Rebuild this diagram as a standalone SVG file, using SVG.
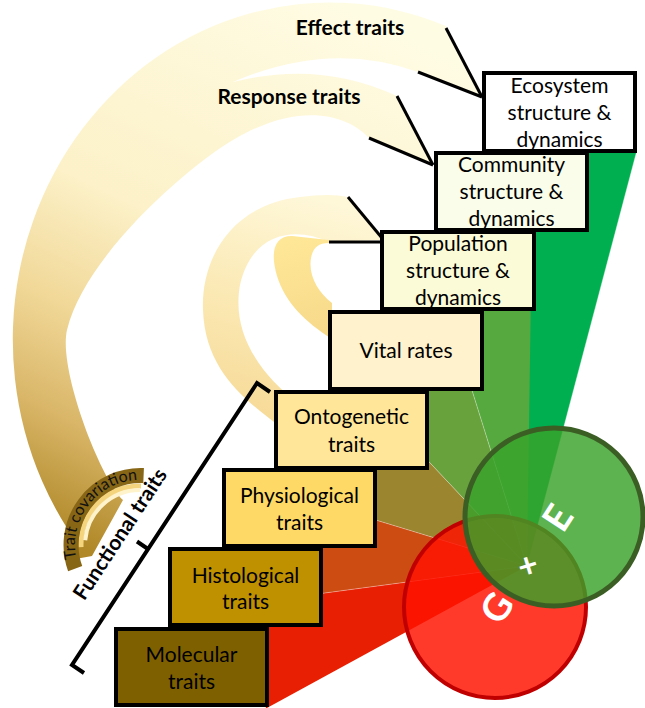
<svg xmlns="http://www.w3.org/2000/svg" width="645" height="708" viewBox="0 0 645 708">
<defs>
<style>
.box{stroke:#000;stroke-width:4}
.bt{font-family:Lato,"Liberation Sans",sans-serif;font-size:21px;fill:#000;text-anchor:middle}
.lbl{font-family:Lato,"Liberation Sans",sans-serif;font-weight:bold;font-size:21px;fill:#000;text-anchor:middle}
.conn line{stroke:#000;stroke-width:3}
.seam{stroke:#ffffff;stroke-opacity:0.35;stroke-width:1}
.big{font-family:Lato,"Liberation Sans",sans-serif;font-weight:bold;fill:#fff;text-anchor:middle}
</style>
<linearGradient id="gBig" gradientUnits="userSpaceOnUse" x1="330" y1="0" x2="70" y2="540">
<stop offset="0" stop-color="#fffce4"/>
<stop offset="0.45" stop-color="#fcf1c8"/>
<stop offset="0.65" stop-color="#f1d898"/>
<stop offset="0.82" stop-color="#d9b668"/>
<stop offset="1" stop-color="#b08828"/>
</linearGradient>
<linearGradient id="gB3" gradientUnits="userSpaceOnUse" x1="300" y1="195" x2="240" y2="420">
<stop offset="0" stop-color="#fef7d8"/>
<stop offset="0.5" stop-color="#fbe9b4"/>
<stop offset="1" stop-color="#f6d996"/>
</linearGradient>
<linearGradient id="gB4" gradientUnits="userSpaceOnUse" x1="300" y1="237" x2="330" y2="335">
<stop offset="0" stop-color="#fee797"/>
<stop offset="1" stop-color="#f7d98a"/>
</linearGradient>
<path id="tcPath" d="M76.42,558.51 A65,65 0 0 1 142.27,480.04"/>
</defs>

<g id="trait-bands">
<path fill="url(#gBig)" d="M67,528 A317,337 0 0 1 446,26 L482,97 L418,72 Q330,40 233,82 Q320,60 397,96 L433,165 L369,138 C348,115 300,100 233,140 C190,165 85,255 67,330 C58,369 100,478 123,500 L92,556 L70,560 Z"/>
<path fill="url(#gB3)" d="M300,405 L278,425 C245,400 205,370 203,310 C201,260 230,205 300,197 Q330,193 348,197 L382,240 L329,242 C295,226 252,232 240,285 C232,330 255,370 300,405 Z"/>
<path fill="url(#gB4)" d="M329,240 L292,236 C274,236 270,252 277,276 C285,302 305,322 332,339 L332,303 C318,292 308,275 311,258 C313,248 318,243 329,243 Z"/>
</g>

<g id="trait-covariation">
<path d="M81.04,547.06 A59,59 0 0 1 141.03,486.01" fill="none" stroke="#f5d47e" stroke-width="5"/>
<path d="M85.21,540.21 A55,55 0 0 1 140,490" fill="none" stroke="#fff3cc" stroke-width="4"/>
<path d="M75.16,568.6 A69.5,69.5 0 0 1 143.6,475.6" fill="none" stroke="#876616" stroke-width="15"/>
<text font-family="Lato,'Liberation Sans',sans-serif" font-size="16" fill="#111"><textPath href="#tcPath">Trait covariation</textPath></text>
</g>

<g id="fan">
<polygon points="527,566 428,250 540,250" fill="#55a93e"/>
<polygon points="527,566 533,150 637,150" fill="#00b050"/>
<polygon points="527,566 450,320 400,431" fill="#68a23c"/>
<polygon points="527,566 400,431 300,497" fill="#9b852e"/>
<polygon points="527,566 300,497 250,603" fill="#cc4c12"/>
<polygon points="527,566 250,603 266,708.5" fill="#e81f02"/>
<line class="seam" x1="527" y1="566" x2="450" y2="320"/>
<line class="seam" x1="527" y1="566" x2="400" y2="431"/>
<line class="seam" x1="527" y1="566" x2="300" y2="497"/>
<line class="seam" x1="527" y1="566" x2="250" y2="603"/>
<line class="seam" x1="527" y1="566" x2="637" y2="150"/>
</g>

<g id="ecosystem">
<rect class="box" x="484" y="73" width="151" height="78" fill="#ffffff"/>
<text class="bt" x="559.5" y="93">Ecosystem</text>
<text class="bt" x="559.5" y="120">structure &amp;</text>
<text class="bt" x="559.5" y="147">dynamics</text>
</g>
<g id="community">
<rect class="box" x="436" y="153" width="151" height="77" fill="#fafde9"/>
<text class="bt" x="511.5" y="172">Community</text>
<text class="bt" x="511.5" y="199">structure &amp;</text>
<text class="bt" x="511.5" y="226">dynamics</text>
</g>
<g id="population">
<rect class="box" x="382" y="232" width="152" height="77" fill="#fbfbd7"/>
<text class="bt" x="458" y="251">Population</text>
<text class="bt" x="458" y="278">structure &amp;</text>
<text class="bt" x="458" y="305">dynamics</text>
</g>
<g id="vital-rates">
<rect class="box" x="330" y="312" width="152" height="77" fill="#fff2cc"/>
<text class="bt" x="406" y="358">Vital rates</text>
</g>
<g id="ontogenetic">
<rect class="box" x="276" y="392" width="151" height="76" fill="#ffe699"/>
<text class="bt" x="351.5" y="424">Ontogenetic</text>
<text class="bt" x="351.5" y="452">traits</text>
</g>
<g id="physiological">
<rect class="box" x="224" y="470" width="151" height="76" fill="#ffd966"/>
<text class="bt" x="299.5" y="503">Physiological</text>
<text class="bt" x="299.5" y="530">traits</text>
</g>
<g id="histological">
<rect class="box" x="170" y="549" width="151" height="76" fill="#bf9000"/>
<text class="bt" x="245.5" y="583">Histological</text>
<text class="bt" x="245.5" y="609">traits</text>
</g>
<g id="molecular">
<rect class="box" x="116" y="629" width="151" height="76" fill="#7f6000"/>
<text class="bt" x="191.5" y="662">Molecular</text>
<text class="bt" x="191.5" y="689">traits</text>
</g>

<g id="connectors" class="conn">
<line x1="446" y1="28" x2="482" y2="97"/>
<line x1="418" y1="72" x2="482" y2="97"/>
<line x1="397" y1="96" x2="433" y2="165"/>
<line x1="369" y1="138" x2="433" y2="165"/>
<line x1="348" y1="197" x2="382" y2="238"/>
<line x1="329" y1="242" x2="382" y2="242"/>
</g>

<g id="labels">
<text class="lbl" x="350" y="35">Effect traits</text>
<text class="lbl" x="289" y="104">Response traits</text>
</g>

<g id="functional-traits">
<path d="M84,673 L72,665 L257,383 L270,392" fill="none" stroke="#000" stroke-width="4"/>
<line x1="148" y1="549" x2="137" y2="541.5" stroke="#000" stroke-width="4"/>
<text class="lbl" font-size="22" transform="translate(126,538) rotate(-56.7)" x="0" y="0">Functional traits</text>
</g>

<g id="G">
<circle cx="495" cy="607" r="91" fill="#ff1200" fill-opacity="0.83" stroke="#c00000" stroke-width="4"/>
<text class="big" font-size="38" transform="translate(497,608) rotate(-57)" y="13">G</text>
</g>
<g id="E">
<circle cx="554" cy="517" r="89" fill="#38a229" fill-opacity="0.82" stroke="#3b5e25" stroke-width="5"/>
<text class="big" font-size="38" transform="translate(558,518) rotate(-57)" y="13">E</text>
<text class="big" font-size="34" transform="translate(528,566) rotate(-17)" y="11">+</text>
</g>
</svg>
